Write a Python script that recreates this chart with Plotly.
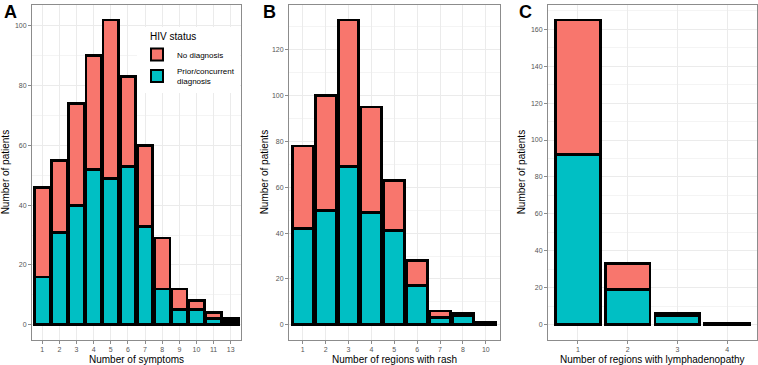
import plotly.graph_objects as go

# ---------------- data ----------------
cats_symptoms = ["1", "2", "3", "4", "5", "6", "7", "8", "9", "10", "11", "13"]
prior_symptoms = [16, 31, 40, 52, 49, 53, 33, 12, 5, 5, 2, 1]
nodiag_symptoms = [30, 24, 34, 38, 53, 30, 27, 17, 7, 3, 2, 1]

cats_rash = ["1", "2", "3", "4", "5", "6", "7", "8", "10"]
prior_rash = [42, 50, 69, 49, 41, 17, 3, 4, 1]
nodiag_rash = [36, 50, 64, 46, 22, 11, 3, 1, 0]

cats_lymph = ["1", "2", "3", "4"]
prior_lymph = [92, 19, 5, 1]
nodiag_lymph = [73, 14, 1, 0]

series_names = ["No diagnosis", "Prior/concurrent<br>diagnosis"]
legend_title = "HIV status"
x_titles = ["Number of symptoms", "Number of regions with rash",
            "Number of regions with lymphadenopathy"]
panel_letters = ["A", "B", "C"]
y_title = "Number of patients"

# ---------------- styling ----------------
RED = "#F8766D"
TEAL = "#00BFC4"
FONT = "Liberation Sans, Arial, Helvetica, sans-serif"
W, H = 758, 365
px_x = lambda p: p / W
px_y = lambda p: 1 - p / H

panels = [
    (cats_symptoms, prior_symptoms, nodiag_symptoms, (32, 241)),
    (cats_rash, prior_rash, nodiag_rash, (289, 499.5)),
    (cats_lymph, prior_lymph, nodiag_lymph, (548, 757)),
]
top_px, bot_px = 4.7, 340

fig = go.Figure()
layout = {}
annotations = []

for i, (cats, prior, nodiag, (x0, x1)) in enumerate(panels):
    ax = "" if i == 0 else str(i + 1)
    xref, yref = "x" + ax, "y" + ax
    first = i == 0
    fig.add_trace(go.Bar(
        x=cats, y=prior, name=series_names[1], legendgroup="prior",
        showlegend=first, legendrank=2,
        marker=dict(color=TEAL, line=dict(color="black", width=2.8)),
        xaxis=xref, yaxis=yref))
    fig.add_trace(go.Bar(
        x=cats, y=nodiag, name=series_names[0], legendgroup="nodiag",
        showlegend=first, legendrank=1,
        marker=dict(color=RED, line=dict(color="black", width=2.8)),
        xaxis=xref, yaxis=yref))

    totals = [a + b for a, b in zip(prior, nodiag)]
    ymax = max(totals)
    pad = 0.05 * ymax

    layout["xaxis" + ax] = dict(
        domain=[px_x(x0), px_x(x1)], anchor=yref, type="category",
        categoryorder="array", categoryarray=cats,
        range=[-0.6, len(cats) - 0.4],
        showgrid=True, gridcolor="#EBEBEB", gridwidth=1,
        ticks="outside", ticklen=3, tickcolor="#8c8c8c", tickwidth=1,
        tickfont=dict(size=7, color="#555555", family=FONT),
        showline=True, mirror=True, linecolor="#8c8c8c", linewidth=1,
        zeroline=False, fixedrange=True)
    layout["yaxis" + ax] = dict(
        domain=[px_y(bot_px), px_y(top_px)], anchor=xref,
        range=[-pad, ymax + pad], tick0=0, dtick=20,
        showgrid=True, gridcolor="#EBEBEB", gridwidth=1,
        minor=dict(dtick=10, tick0=0, showgrid=True, gridcolor="#F4F4F4",
                   gridwidth=0.6),
        ticks="outside", ticklen=3, tickcolor="#8c8c8c", tickwidth=1,
        tickfont=dict(size=7, color="#555555", family=FONT),
        showline=True, mirror=True, linecolor="#8c8c8c", linewidth=1,
        zeroline=False, fixedrange=True)

    # axis titles
    annotations.append(dict(
        text=x_titles[i], xref="paper", yref="paper",
        x=px_x((x0 + x1) / 2), y=px_y(359.5), xanchor="center", yanchor="middle",
        showarrow=False, font=dict(size=10, color="black", family=FONT)))
    ytx = [5, 264, 521][i]
    annotations.append(dict(
        text=y_title, xref="paper", yref="paper", textangle=-90,
        x=px_x(ytx), y=px_y((top_px + bot_px) / 2), xanchor="center",
        yanchor="middle", showarrow=False,
        font=dict(size=10, color="black", family=FONT)))
    # panel letters
    lx = [2, 260.5, 517][i]
    annotations.append(dict(
        text="<b>%s</b>" % panel_letters[i], xref="paper", yref="paper",
        x=px_x(lx), y=px_y(0), xanchor="left", yanchor="top",
        showarrow=False, font=dict(size=18, color="black", family=FONT)))

fig.update_layout(
    **layout,
    width=W, height=H,
    margin=dict(l=0, r=0, t=0, b=0),
    barmode="stack", bargap=0.1,
    plot_bgcolor="white", paper_bgcolor="white",
    font=dict(family=FONT),
    annotations=annotations,
    showlegend=True,
    legend=dict(
        title=dict(text="\u00a0\u00a0\u00a0\u00a0" + legend_title,
                   font=dict(size=10, color="black", family=FONT)),
        font=dict(size=8, color="black", family=FONT),
        x=px_x(137), y=px_y(27), xanchor="left", yanchor="top",
        bgcolor="white", borderwidth=0, traceorder="normal",
        itemsizing="constant", tracegroupgap=0),
)

fig.write_html(
    "out.html",
    config={"displayModeBar": False},
    post_script="document.body.style.margin='0px';"
                "document.body.style.overflow='hidden';",
)
